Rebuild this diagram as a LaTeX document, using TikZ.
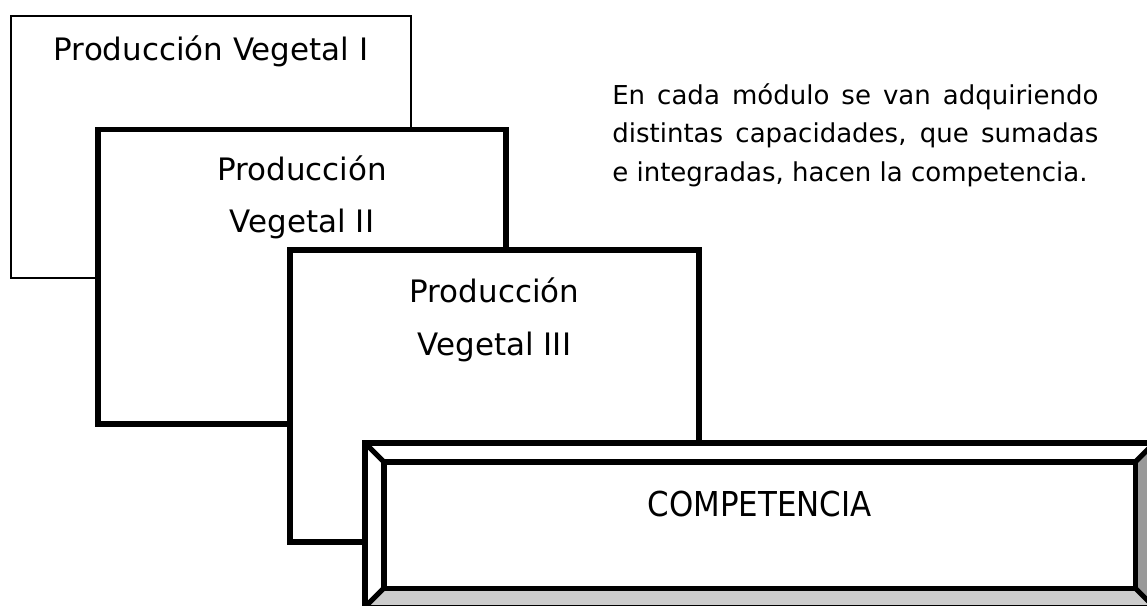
\documentclass[tikz,border=0pt]{standalone}
\usepackage{fontspec}
\setmainfont{DejaVu Sans}
\newfontfamily\condfont[FakeStretch=0.9]{DejaVu Sans}
\usetikzlibrary{positioning, calc}

\tikzset{
  thinbox/.style={draw, line width=1.4pt, fill=white, outer sep=0pt, inner sep=0pt, anchor=north west},
  thickbox/.style={draw, line width=4pt, fill=white, outer sep=0pt, inner sep=0pt, anchor=north west},
  bevel/.style={line width=3.6pt, line join=miter},
  boxtext/.style={anchor=base, inner sep=0pt, font=\fontsize{22}{30}\selectfont}
}

\begin{document}
\begin{tikzpicture}[x=0.025cm, y=0.025cm]
\useasboundingbox (0,0) rectangle (1147,-606);

% First module
\node[thinbox, minimum width=10cm, minimum height=6.55cm] (pv1) at (11,-16) {};
\node[boxtext] (pv1t) at ($(pv1.north)+(0,-44)$) {Producción Vegetal I};

% Second module
\node[thickbox, minimum width=10.2cm, minimum height=7.36cm] (pv2) at (98,-129.5) {};
\node[boxtext] (pv2a) at ($(pv2.north)+(0,-50.5)$) {Producción};
\node[boxtext] (pv2b) at ($(pv2.north)+(0,-102.5)$) {Vegetal II};

% Third module
\node[thickbox, minimum width=10.22cm, minimum height=7.3cm] (pv3) at (290,-250) {};
\node[boxtext] (pv3a) at ($(pv3.north)+(0,-52)$) {Producción};
\node[boxtext] (pv3b) at ($(pv3.north)+(0,-105)$) {Vegetal III};

% Competence frame with bevel
\node[fill=white, outer sep=0pt, inner sep=0pt, anchor=north west,
      minimum width=18.775cm, minimum height=3.15cm] (comp) at (384,-462) {};
\coordinate (otl) at ($(comp.north west)+(-19,19)$);
\coordinate (otr) at ($(comp.north east)+(19,19)$);
\coordinate (obl) at ($(comp.south west)+(-19,-19)$);
\coordinate (obr) at ($(comp.south east)+(19,-19)$);
\fill[white] (otl) -- (otr) -- (comp.north east) -- (comp.north west) -- cycle;
\fill[white] (otl) -- (comp.north west) -- (comp.south west) -- (obl) -- cycle;
\fill[black!40] (otr) -- (obr) -- (comp.south east) -- (comp.north east) -- cycle;
\fill[black!20] (obl) -- (comp.south west) -- (comp.south east) -- (obr) -- cycle;
\draw[bevel] (otl) rectangle (obr);
\draw[bevel] (comp.north west) rectangle (comp.south east);
\draw[bevel] (otl) -- (comp.north west) (otr) -- (comp.north east)
             (obl) -- (comp.south west) (obr) -- (comp.south east);
\node[anchor=base, inner sep=0pt, font=\condfont\fontsize{24.4}{30}\selectfont] (compt)
      at ($(comp.north)+(0,-54)$) {COMPETENCIA};

% Explanation
\node[anchor=north west, inner sep=0pt, text width=12.15cm, align=justify,
      font=\fontsize{18.5}{27.6}\selectfont] (note) at (612,-83)
  {En cada módulo se van adquiriendo\linebreak distintas capacidades, que sumadas\linebreak e integradas, hacen la competencia.};
\end{tikzpicture}
\end{document}
